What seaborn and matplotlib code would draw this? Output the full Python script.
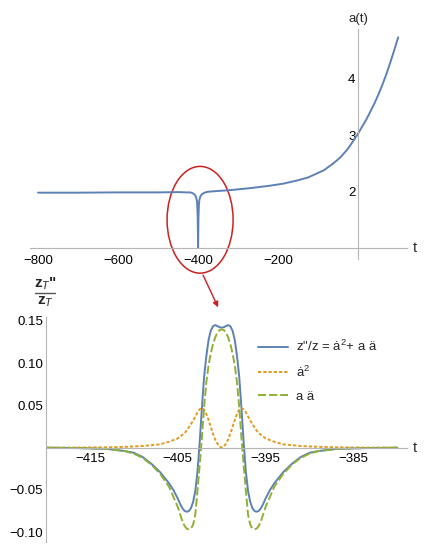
import numpy as np
import pandas as pd
import matplotlib
matplotlib.use("Agg")
import matplotlib.pyplot as plt
import seaborn as sns
from matplotlib.ticker import MultipleLocator, FixedLocator
from matplotlib.patches import Ellipse, ConnectionPatch
from matplotlib.lines import Line2D

# --- data ---
# top panel: scale factor a(t)
t_top = [-800, -700, -600, -500, -450, -430, -420, -415, -410, -407, -405, -403, -402,
         -401, -400.5, -400, -399.5, -399, -398, -397, -395, -393, -390, -385, -380,
         -370, -350, -320, -270, -224, -187, -150, -125, -103, -85, -62, -50, -40, -30,
         -20, -10, 0, 10, 20, 30, 40, 50, 60, 70, 80, 90, 100]
a_top = [1.98, 1.98, 1.985, 1.985, 1.99, 1.985, 1.985, 1.975, 1.955, 1.93, 1.90, 1.84,
         1.76, 1.55, 1.30, 1.00, 1.30, 1.55, 1.76, 1.84, 1.90, 1.93, 1.955, 1.975, 1.99,
         2.0, 2.01, 2.025, 2.06, 2.10, 2.14, 2.20, 2.25, 2.32, 2.38, 2.50, 2.57, 2.64,
         2.72, 2.815, 2.92, 3.03, 3.15, 3.27, 3.41, 3.55, 3.71, 3.88, 4.07, 4.28, 4.50,
         4.73]

# bottom panel: zoom around t = -400
t_zoom = [-420, -416, -413, -411, -410, -409, -408, -407, -406, -405.5, -405, -404.75,
          -404.5, -404.25, -404, -403.75, -403.5, -403.25, -403, -402.75, -402.5,
          -402.25, -402, -401.75, -401.5, -401.25, -401, -400.75, -400.5, -400.25, -400,
          -399.75, -399.5, -399.25, -399, -398.75, -398.5, -398.25, -398, -397.75,
          -397.5, -397.25, -397, -396.75, -396.5, -396.25, -396, -395.75, -395.5,
          -395.25, -395, -394.5, -394, -393, -392, -391, -390, -389, -387, -384, -380]
zz_total = [0.0, -0.0005, -0.0015, -0.004, -0.006, -0.011, -0.019, -0.029, -0.042, -0.050,
            -0.060, -0.066, -0.071, -0.0745, -0.0757, -0.075, -0.0715, -0.064, -0.051,
            -0.028, 0.007, 0.047, 0.084, 0.108, 0.127, 0.138, 0.1435, 0.145, 0.144,
            0.1425, 0.142,
            0.1425, 0.144, 0.145, 0.1435, 0.138, 0.127, 0.108, 0.084, 0.047, 0.007,
            -0.028, -0.051, -0.064, -0.0715, -0.075, -0.0757, -0.0745, -0.071, -0.066,
            -0.060, -0.050, -0.042, -0.029, -0.019, -0.011, -0.006, -0.004, -0.0015,
            -0.0005, 0.0]
adot_sq = [0.0, 0.0002, 0.0005, 0.001, 0.0015, 0.002, 0.003, 0.004, 0.007, 0.009, 0.011,
           0.013, 0.015, 0.017, 0.020, 0.024, 0.028, 0.032, 0.037, 0.042, 0.0455, 0.0468,
           0.045, 0.040, 0.033, 0.025, 0.017, 0.010, 0.005, 0.0015, 0.0,
           0.0015, 0.005, 0.010, 0.017, 0.025, 0.033, 0.040, 0.045, 0.0468, 0.0455,
           0.042, 0.037, 0.032, 0.028, 0.024, 0.020, 0.017, 0.015, 0.013, 0.011, 0.009,
           0.007, 0.004, 0.003, 0.002, 0.0015, 0.001, 0.0005, 0.0002, 0.0]
a_addot = [0.0, -0.0005, -0.0015, -0.004, -0.007, -0.012, -0.020, -0.031, -0.046, -0.058,
           -0.070, -0.078, -0.086, -0.092, -0.0955, -0.0965, -0.0955, -0.091, -0.079,
           -0.050, -0.020, 0.012, 0.048, 0.077, 0.097, 0.111, 0.122, 0.130, 0.136,
           0.139, 0.140,
           0.139, 0.136, 0.130, 0.122, 0.111, 0.097, 0.077, 0.048, 0.012, -0.020,
           -0.050, -0.079, -0.091, -0.0955, -0.0965, -0.0955, -0.092, -0.086, -0.078,
           -0.070, -0.058, -0.046, -0.031, -0.020, -0.012, -0.007, -0.004, -0.0015,
           -0.0005, 0.0]

legend_labels = ['z"/z = ȧ$^2$+ a ä', 'ȧ$^2$', 'a ä']

top_xticks = [-800, -600, -400, -200]
top_yticks = [2, 3, 4]
bot_xticks = [-415, -405, -395, -385]
bot_yticks = [-0.10, -0.05, 0.05, 0.10, 0.15]

# --- style ---
sns.set_theme(style="white")
plt.rcParams['font.family'] = ['Liberation Sans', 'DejaVu Sans']
plt.rcParams['mathtext.fontset'] = 'custom'
plt.rcParams['mathtext.rm'] = 'Liberation Sans'
plt.rcParams['mathtext.it'] = 'Liberation Sans:italic'
plt.rcParams['mathtext.bf'] = 'Liberation Sans:bold'

BLUE = '#5e81b5'
ORANGE = '#e19c24'
GREEN = '#8fb032'
RED = '#cc2020'
AXIS_GREY = '#b5b5b5'
FS = 9.5


def style_axes(ax):
    for side in ['top', 'right']:
        ax.spines[side].set_visible(False)
    for side in ['left', 'bottom']:
        ax.spines[side].set_color(AXIS_GREY)
        ax.spines[side].set_linewidth(0.8)
    ax.tick_params(which='both', direction='in', color=AXIS_GREY, labelsize=FS,
                   labelcolor='black', width=0.6)
    ax.tick_params(which='major', length=3.5)
    ax.tick_params(which='minor', length=1.8)
    ax.grid(False)


fig = plt.figure(figsize=(4.28, 5.5), dpi=100)

# %% top panel
ax1 = fig.add_axes([30 / 428, 0.5285, 377 / 428, 0.418])
sns.lineplot(x=t_top, y=a_top, ax=ax1, color=BLUE, linewidth=1.4, sort=False)
ax1.set_xlim(-820, 122)
ax1.set_ylim(0.8, 4.87)
style_axes(ax1)
ax1.spines['left'].set_position(('data', 0))
ax1.spines['bottom'].set_position(('data', 1.0))
ax1.xaxis.set_major_locator(FixedLocator(top_xticks))
ax1.xaxis.set_minor_locator(MultipleLocator(50))
ax1.yaxis.set_major_locator(FixedLocator(top_yticks))
ax1.yaxis.set_minor_locator(MultipleLocator(0.2))
ax1.tick_params(axis='x', pad=5)
ax1.tick_params(axis='y', pad=2)
ax1.annotate('a(t)', xy=(0, 1), xycoords=('data', 'axes fraction'), xytext=(0, 3),
             textcoords='offset points', ha='center', va='bottom', fontsize=FS)
ax1.annotate('t', xy=(1, 1.0), xycoords=('axes fraction', 'data'), xytext=(4, 0),
             textcoords='offset points', ha='left', va='center', fontsize=FS + 1)

# red ellipse around the dip
ell = Ellipse((-395, 1.50), width=165, height=1.89, transform=ax1.transData,
              fill=False, edgecolor=RED, linewidth=1.1, clip_on=False)
ax1.add_patch(ell)

# %% bottom panel
ax2 = fig.add_axes([46 / 428, 0.0153, 361 / 428, 0.409])
df = pd.DataFrame({'t': t_zoom, 'total': zz_total, 'adot2': adot_sq, 'aaddot': a_addot})
sns.lineplot(data=df, x='t', y='total', ax=ax2, color=BLUE, linewidth=1.4,
             label=legend_labels[0])
sns.lineplot(data=df, x='t', y='adot2', ax=ax2, color=ORANGE, linewidth=1.4,
             linestyle=(0, (1.7, 1.0)), label=legend_labels[1])
sns.lineplot(data=df, x='t', y='aaddot', ax=ax2, color=GREEN, linewidth=1.4,
             linestyle=(0, (4.2, 1.5)), label=legend_labels[2])
ax2.set_xlim(-420, -378.9)
ax2.set_ylim(-0.111, 0.155)
style_axes(ax2)
ax2.spines['bottom'].set_position(('data', 0))
ax2.xaxis.set_major_locator(FixedLocator(bot_xticks))
ax2.xaxis.set_minor_locator(MultipleLocator(2))
ax2.yaxis.set_major_locator(FixedLocator(bot_yticks))
ax2.yaxis.set_minor_locator(MultipleLocator(0.01))
ax2.yaxis.set_major_formatter(plt.FuncFormatter(lambda v, p: f'{v:.2f}'.replace('-', '\u2212')))
ax2.tick_params(axis='x', pad=3.5)
ax2.tick_params(axis='y', pad=2)
ax2.set_xlabel('')
ax2.set_ylabel('')
ax2.annotate('t', xy=(1, 0), xycoords=('axes fraction', 'data'), xytext=(4, 0),
             textcoords='offset points', ha='left', va='center', fontsize=FS + 1)

# stacked fraction label z_T" / z_T above the y axis
fig.text(45 / 428, 1 - 284 / 550, 'z$_T$"', ha='center', va='center', fontsize=11,
         fontweight='bold')
fig.text(45 / 428, 1 - 302 / 550, 'z$_T$', ha='center', va='center', fontsize=11,
         fontweight='bold')
fig.add_artist(Line2D([35 / 428, 55 / 428], [1 - 292.5 / 550, 1 - 292.5 / 550],
                      transform=fig.transFigure, color='#555555', linewidth=1.0))

handles = ax2.get_lines()[:3]
ax2.legend(handles, legend_labels, loc='upper left', bbox_to_anchor=(258 / 428, 1 - 339 / 550),
           bbox_transform=fig.transFigure, frameon=False, fontsize=FS, borderpad=0,
           borderaxespad=0, handlelength=2.3, handletextpad=0.55, labelspacing=0.8)

# arrow from ellipse down to the zoomed panel
arrow = ConnectionPatch(xyA=(-387.5, 0.52), coordsA=ax1.transData,
                        xyB=(-400.4, 0.166), coordsB=ax2.transData,
                        arrowstyle='-|>', color=RED, linewidth=1.0, mutation_scale=8)
fig.add_artist(arrow)

fig.savefig('out.png', dpi=100)
